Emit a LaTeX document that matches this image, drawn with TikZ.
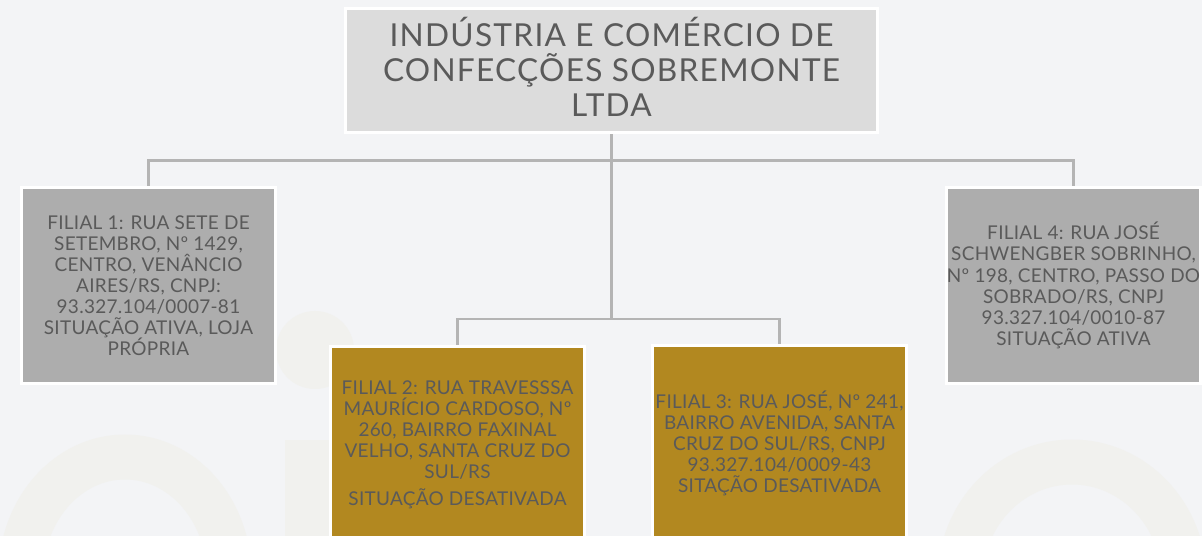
\documentclass[tikz,border=0pt]{standalone}
\usepackage{fontspec}
\setmainfont{Lato}
\newfontfamily\widelato{Lato}[LetterSpace=4]
\newfontfamily\smalllato{Lato}[LetterSpace=1.5]
\usetikzlibrary{positioning}

\definecolor{pagebg}{HTML}{F3F4F6}
\definecolor{markbeige}{HTML}{F1F1EE}
\definecolor{rootfill}{HTML}{DCDCDC}
\definecolor{grayfill}{HTML}{ADADAD}
\definecolor{goldfill}{HTML}{B28820}
\definecolor{linkgray}{HTML}{B4B4B4}
\definecolor{textgray}{HTML}{5A5A5A}

\tikzset{
  box/.style={draw=white, line width=2.13pt, minimum width=6.35cm,
    minimum height=4.9cm, align=center, text=textgray, inner sep=0pt,
    font=\smalllato\fontsize{13.5}{15}\selectfont},
  rootbox/.style={box, fill=rootfill, minimum width=13.3cm,
    minimum height=3.1cm, text depth=4.5pt,
    font=\widelato\fontsize{22.5}{24.9}\selectfont},
  graybox/.style={box, fill=grayfill},
  goldbox/.style={box, fill=goldfill},
  link/.style={draw=linkgray, line width=2.13pt},
  watermark/.style={draw=markbeige, line width=32pt}
}

\begin{document}
\begin{tikzpicture}[x=0.025cm, y=-0.025cm]

    % page
    \fill[pagebg] (0,0) rectangle (1202,536);
    \useasboundingbox (0,0) rectangle (1202,536);
    \clip (0,0) rectangle (1202,536);

    % faint watermark behind the chart
    \draw[watermark] (125,575) ellipse (104 and 118);
    \draw[watermark] (1072,580) ellipse (112 and 118);
    \fill[markbeige] (285,440) rectangle (338,536);
    \fill[markbeige] (315,350) circle (39);

    % these are the boxes
    \node[rootbox] (root) at (611.5,70.5)
        {INDÚSTRIA E COMÉRCIO DE\\CONFECÇÕES SOBREMONTE\\LTDA};
    \node[graybox] (fil1) at (148.5,285.5)
        {FILIAL 1: RUA SETE DE\\SETEMBRO, Nº 1429,\\CENTRO, VENÂNCIO\\AIRES/RS, CNPJ:\\93.327.104/0007-81\\SITUAÇÃO ATIVA, LOJA\\PRÓPRIA};
    \node[goldbox] (fil2) at (457.5,444.5)
        {FILIAL 2: RUA TRAVESSSA\\MAURÍCIO CARDOSO, Nº\\260, BAIRRO FAXINAL\\VELHO, SANTA CRUZ DO\\SUL/RS\\[4pt]SITUAÇÃO DESATIVADA};
    \node[goldbox] (fil3) at (779.5,443.5)
        {FILIAL 3: RUA JOSÉ, Nº 241,\\BAIRRO AVENIDA, SANTA\\CRUZ DO SUL/RS, CNPJ\\93.327.104/0009-43\\SITAÇÃO DESATIVADA};
    \node[graybox] (fil4) at (1073.5,285.5)
        {FILIAL 4: RUA JOSÉ\\SCHWENGBER SOBRINHO,\\Nº 198, CENTRO, PASSO DO\\SOBRADO/RS, CNPJ\\93.327.104/0010-87\\SITUAÇÃO ATIVA};

    % these are the links
    \coordinate (bus1) at (611.5,161);
    \coordinate (bus2) at (611.5,319);
    \draw[link] (root.south) -- (bus1) -| (fil1.north);
    \draw[link] (bus1) -| (fil4.north);
    \draw[link] (bus1) -- (bus2) -| (fil2.north);
    \draw[link] (bus2) -| (fil3.north);

\end{tikzpicture}
\end{document}
